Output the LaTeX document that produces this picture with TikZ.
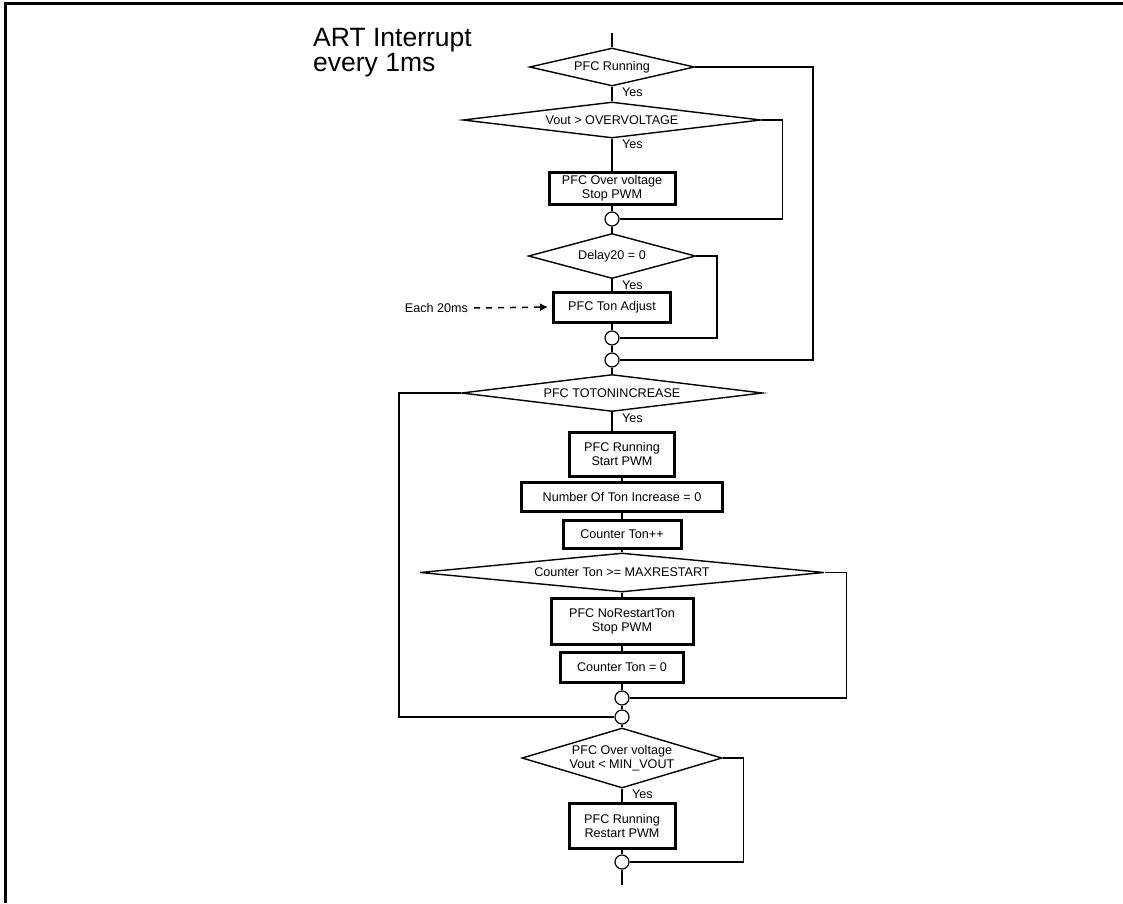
\documentclass[tikz,border=0pt]{standalone}
\usepackage{fontspec}
\setmainfont{Liberation Sans}
\usetikzlibrary{shapes.geometric,arrows.meta,positioning}

\newcommand{\chartfont}{\fontsize{12.6}{14}\selectfont}

\tikzset{
	flow/.style={line width=1.5pt},
	decision/.style n args={3}{draw,diamond,line width=1.4pt,inner sep=0pt,minimum width=#1,minimum height=#2,aspect=#3,align=center,font=\chartfont},
	process/.style 2 args={draw,rectangle,line width=3pt,inner sep=0pt,minimum width=#1,minimum height=#2,align=center,font=\chartfont},
	junction/.style={draw,circle,line width=1.2pt,minimum size=14pt,inner sep=0pt},
	yes/.style={anchor=north west,inner sep=1pt,xshift=9pt,font=\chartfont},
	trigger/.style={line width=1.5pt,dash pattern=on 6pt off 6pt,-{Latex[length=8pt,width=8pt]},shorten >=4pt,shorten <=3pt}
}

\begin{document}
\begin{tikzpicture}[x=1pt,y=-1pt]
	\useasboundingbox (0,0) rectangle (1123,903);
	\draw[line width=3pt] (5,903) -- (5,3) -- (1123,3);

	\node[anchor=north west,inner sep=0pt,align=left,font=\fontsize{26.5}{23}\selectfont] (title) at (313,28) {ART Interrupt\\every 1ms};

	\coordinate (top) at (612,33);
	\node[decision={165}{38}{4.3}] (run) at (612,67) {PFC Running};
	\node[decision={298}{36}{8.3}] (ovc) at (612,120) {Vout > OVERVOLTAGE};
	\node[process={126}{32}] (ovstop) at (612,188) {PFC Over voltage\\Stop PWM};
	\node[junction] (j1) at (612,219) {};
	\node[decision={167}{45}{3.7}] (dly) at (612,256) {Delay20 = 0};
	\node[process={117}{30}] (adj) at (612,307) {PFC Ton Adjust};
	\node[junction] (j2) at (612,338) {};
	\node[junction] (j3) at (612,360) {};
	\node[decision={301}{37}{8.1}] (toton) at (612,393) {PFC TOTONINCREASE};
	\node[process={105}{44}] (start) at (622,454) {PFC Running\\Start PWM};
	\node[process={201}{29}] (zero) at (622,496.5) {Number Of Ton Increase = 0};
	\node[process={118}{28}] (cntinc) at (622,534) {Counter Ton++};
	\node[decision={404}{39}{10.4}] (maxr) at (622,572.5) {Counter Ton >= MAXRESTART};
	\node[process={142}{46}] (norst) at (622,621) {PFC NoRestartTon\\Stop PWM};
	\node[process={123}{30}] (cntzero) at (622,667.5) {Counter Ton = 0};
	\node[junction] (j4) at (622,698) {};
	\node[junction] (j5) at (622,717) {};
	\node[decision={200}{60}{3.3}] (minv) at (622,758) {PFC Over voltage\\Vout < MIN\_VOUT};
	\node[process={106}{45}] (restart) at (622,825.5) {PFC Running\\Restart PWM};
	\node[junction] (j6) at (622,862) {};
	\coordinate (bottom) at (622,885);

	\node[font=\chartfont,inner sep=3pt] (each) at (436.5,308) {Each 20ms};

	\draw[flow] (top) -- (run.north);
	\foreach \a/\b in {run/ovc,ovc/ovstop,ovstop/j1,j1/dly,dly/adj,adj/j2,j2/j3,j3/toton,start/zero,zero/cntinc,cntinc/maxr,maxr/norst,norst/cntzero,cntzero/j4,j4/j5,j5/minv,minv/restart,restart/j6}
		\draw[flow] (\a.south) -- (\b.north);
	\draw[flow] (toton.south) -- (toton.south |- start.north);
	\draw[flow] (j6.south) -- (bottom);

	\foreach \d in {run,ovc,dly,toton,minv}
		\node[yes] at (\d.south) {Yes};

	\draw[flow] (run.east) -- ++(118,0) |- (j3.east);
	\draw[flow] (ovc.east) -- ++(21,0) |- (j1.east);
	\draw[flow] (dly.east) -- ++(21,0) |- (j2.east);
	\draw[flow] (toton.west) -- ++(-62,0) |- (j5.west);
	\draw[flow] (maxr.east) -- ++(22,0) |- (j4.east);
	\draw[flow] (minv.east) -- ++(21,0) |- (j6.east);

	\draw[trigger] (each.east) -- (adj.west);
\end{tikzpicture}
\end{document}
